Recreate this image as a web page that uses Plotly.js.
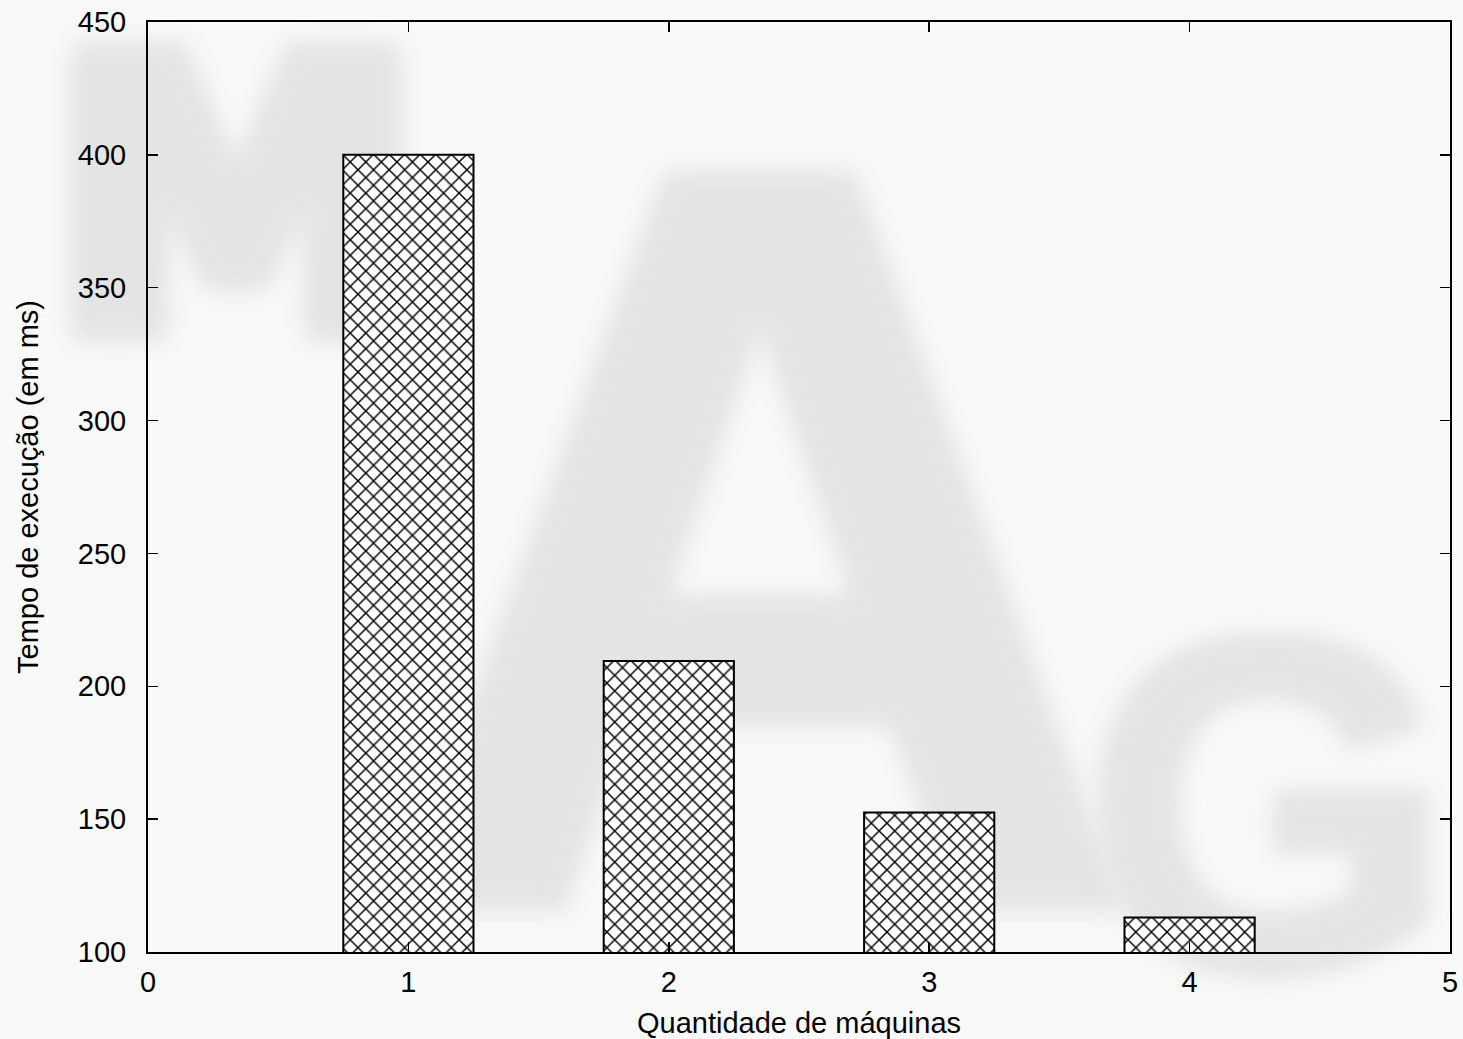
<!DOCTYPE html>
<html>
<head>
<meta charset="utf-8">
<script src="https://cdn.plot.ly/plotly-3.0.1.min.js"></script>
<style>
html,body{margin:0;padding:0;background:#f9f9f9;}
#chart{width:1463px;height:1039px;}
.layer-below .shapelayer text{filter:blur(11px);}
</style>
</head>
<body>
<div id="chart"></div>
<script>
const machines = [1, 2, 3, 4];
const execTimeMs = [400, 209.5, 152.5, 113];
const xTicks = [0, 1, 2, 3, 4, 5];
const yTicks = [100, 150, 200, 250, 300, 350, 400, 450];
const watermark = ["M", "A", "G"];

const WM_COLOR = '#e4e4e4';

const trace = {
  type: 'bar',
  x: machines,
  y: execTimeMs,
  width: 0.5,
  marker: {
    color: '#ffffff',
    line: {color: '#000000', width: 2},
    pattern: {shape: 'x', fgcolor: '#000000', bgcolor: '#ffffff', size: 11, solidity: 0.25}
  },
  hoverinfo: 'x+y'
};

function wm(txt, cx, cy, size, family){
  // cx, cy: centre of the watermark letter, in page pixels
  const px = (cx - 148) / 1302, py = (952 - cy) / 930;
  return {
    type: 'rect', xref: 'paper', yref: 'paper', layer: 'below',
    x0: px - 0.01, x1: px + 0.01, y0: py - 0.01, y1: py + 0.01,
    line: {width: 0}, fillcolor: 'rgba(0,0,0,0)',
    label: {text: txt, textposition: 'middle center',
      font: {family: family, size: size, color: WM_COLOR, weight: 'bold'}}
  };
}

const layout = {
  width: 1463, height: 1039,
  margin: {l: 148, r: 13, t: 22, b: 87},
  paper_bgcolor: '#f9f9f9',
  plot_bgcolor: 'rgba(0,0,0,0)',
  showlegend: false,
  font: {family: 'Liberation Sans, Arial, sans-serif', size: 29, color: '#000'},
  xaxis: {
    range: [0, 5], tickvals: xTicks, ticktext: xTicks.map(String),
    ticks: 'inside', ticklen: 10, tickwidth: 1.5, tickcolor: '#000',
    showline: true, linecolor: '#000', linewidth: 2, mirror: 'ticks',
    showgrid: false, zeroline: false,
    tickfont: {size: 29}, ticklabelstandoff: 3,
    title: {text: 'Quantidade de máquinas', font: {size: 29}, standoff: 17}
  },
  yaxis: {
    range: [100, 450], tickvals: yTicks, ticktext: yTicks.map(String),
    ticks: 'inside', ticklen: 10, tickwidth: 1.5, tickcolor: '#000',
    showline: true, linecolor: '#000', linewidth: 2, mirror: 'ticks',
    showgrid: false, zeroline: false,
    tickfont: {size: 29}, ticklabelstandoff: 14,
    title: {text: 'Tempo de execução (em ms)', font: {size: 29}, standoff: 31}
  },
  shapes: [
    wm(watermark[0], 236, 172, 370, 'DejaVu Sans, sans-serif'),
    wm(watermark[1], 760, 440, 1050, 'Liberation Sans, Arial, sans-serif'),
    wm(watermark[2], 1268, 760, 470, 'Liberation Sans, Arial, sans-serif')
  ]
};

Plotly.newPlot('chart', [trace], layout, {displayModeBar: false, staticPlot: true}).then(function(){
  const strokes = [34, 20, 16];
  document.querySelectorAll('.layer-below .shapelayer text').forEach(function(t, i){
    t.style.stroke = WM_COLOR;
    t.style.strokeWidth = (strokes[i] || 16) + 'px';
    t.style.strokeLinejoin = 'round';
  });
});
</script>
</body>
</html>
